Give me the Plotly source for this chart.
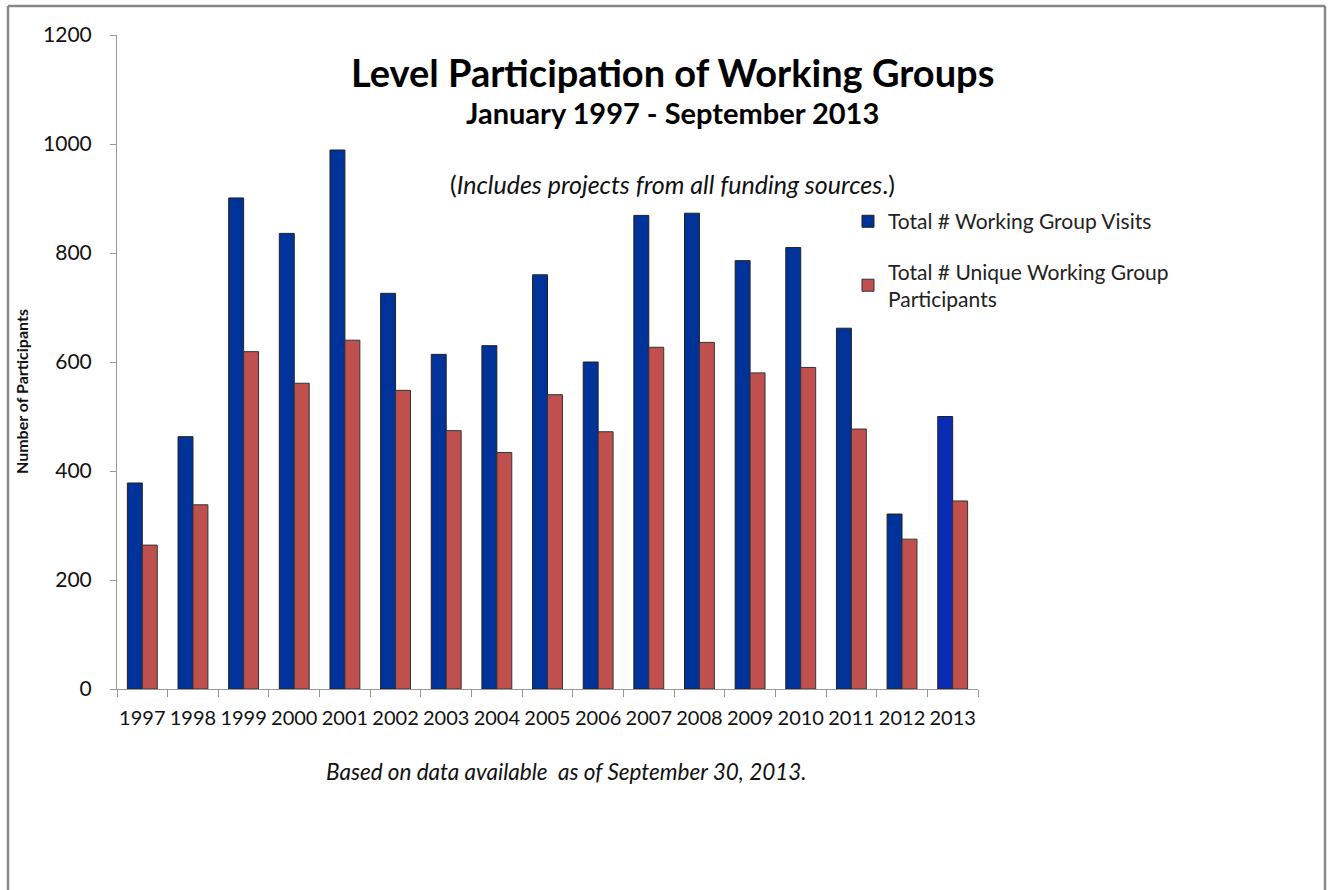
import plotly.graph_objects as go

years = ["1997", "1998", "1999", "2000", "2001", "2002", "2003", "2004", "2005",
         "2006", "2007", "2008", "2009", "2010", "2011", "2012", "2013"]
visits = [378, 463, 901, 836, 989, 726, 614, 630, 760, 600, 869, 873, 786, 810, 662, 321, 500]
unique = [264, 338, 619, 561, 640, 548, 474, 434, 540, 472, 627, 636, 580, 590, 477, 275, 345]
y_ticks = [0, 200, 400, 600, 800, 1000, 1200]

blue = "#003399"
blue_last = "#0A2CB5"
red = "#C0504D"
font = "Lato"

blue_colors = [blue] * (len(years) - 1) + [blue_last]

fig = go.Figure()
fig.add_trace(go.Bar(
    x=years, y=visits, name="Total # Working Group Visits", legendgroup="a",
    marker=dict(color=blue_colors, line=dict(color="#222222", width=1)),
))
fig.add_trace(go.Bar(
    x=years, y=unique, name="Total # Unique Working Group<br>Participants", legendgroup="b",
    marker=dict(color=red, line=dict(color="#333333", width=1)),
))

fig.update_layout(
    width=1330, height=890,
    margin=dict(l=117, r=352, t=35, b=201),
    paper_bgcolor="white", plot_bgcolor="white",
    barmode="group", bargap=0.41, bargroupgap=0,
    font=dict(family=font, size=17, color="#111111"),
    showlegend=True,
    legend=dict(x=0.849, y=0.746, xanchor="left", yanchor="top",
                font=dict(family=font, size=21, color="#222222"),
                tracegroupgap=20, itemwidth=30, bgcolor="rgba(0,0,0,0)"),
    xaxis=dict(type="category", showline=True, linecolor="#999999", linewidth=1,
               ticks="outside", tickson="boundaries", ticklen=7, tickcolor="#999999",
               tickangle=0,
               tickfont=dict(family=font, size=20, color="#111111"), showgrid=False,
               ticklabelstandoff=11),
    yaxis=dict(range=[0, 1200], tickvals=y_ticks, showline=True, linecolor="#999999",
               linewidth=1, ticks="outside", ticklen=6, tickcolor="#999999",
               showgrid=False, zeroline=False, ticklabelstandoff=14,
               tickfont=dict(family=font, size=21, color="#111111")),
)

# outer chart border (left, top, right) in page pixels -> paper coords
def px(x):
    return (x - 117) / 861

def py(y):
    return (689 - y) / 654

xl, xr, yt, yb = px(8), px(1325), py(6), py(900)
for x0, x1, y0, y1 in [(xl, xl, yb, yt), (xl, xr, yt, yt), (xr, xr, yb, yt)]:
    fig.add_shape(type="line", xref="paper", yref="paper", x0=x0, x1=x1, y0=y0, y1=y1,
                  line=dict(color="#888888", width=2.5))

fig.add_annotation(text="<b>Number of Participants</b>", xref="paper", yref="paper",
                   x=px(22), y=py(392), textangle=-90,
                   xanchor="center", yanchor="middle", showarrow=False,
                   font=dict(family=font, size=16, color="#111111"))

cx = px(672)
fig.add_annotation(text="<b>Level Participation of Working Groups</b>", xref="paper", yref="paper",
                   x=cx, y=py(72), xanchor="center", yanchor="middle", showarrow=False,
                   font=dict(family=font, size=38, color="#000000"))
fig.add_annotation(text="<b>January 1997 - September 2013</b>", xref="paper", yref="paper",
                   x=cx, y=py(113), xanchor="center", yanchor="middle", showarrow=False,
                   font=dict(family=font, size=29, color="#000000"))
fig.add_annotation(text="(<i>Includes projects from all funding sources</i>.)", xref="paper", yref="paper",
                   x=cx, y=py(184), xanchor="center", yanchor="middle", showarrow=False,
                   font=dict(family=font, size=25, color="#111111"))
fig.add_annotation(text="<i>Based on data available  as of September 30, 2013.</i>", xref="paper", yref="paper",
                   x=px(566), y=py(771), xanchor="center", yanchor="middle",
                   showarrow=False, font=dict(family=font, size=22.5, color="#111111"))

fig.write_html(
    "out.html",
    config={"displayModeBar": False},
    post_script="document.body.style.margin='0px';"
                "document.documentElement.style.overflow='hidden';"
                "document.body.style.overflow='hidden';",
)
